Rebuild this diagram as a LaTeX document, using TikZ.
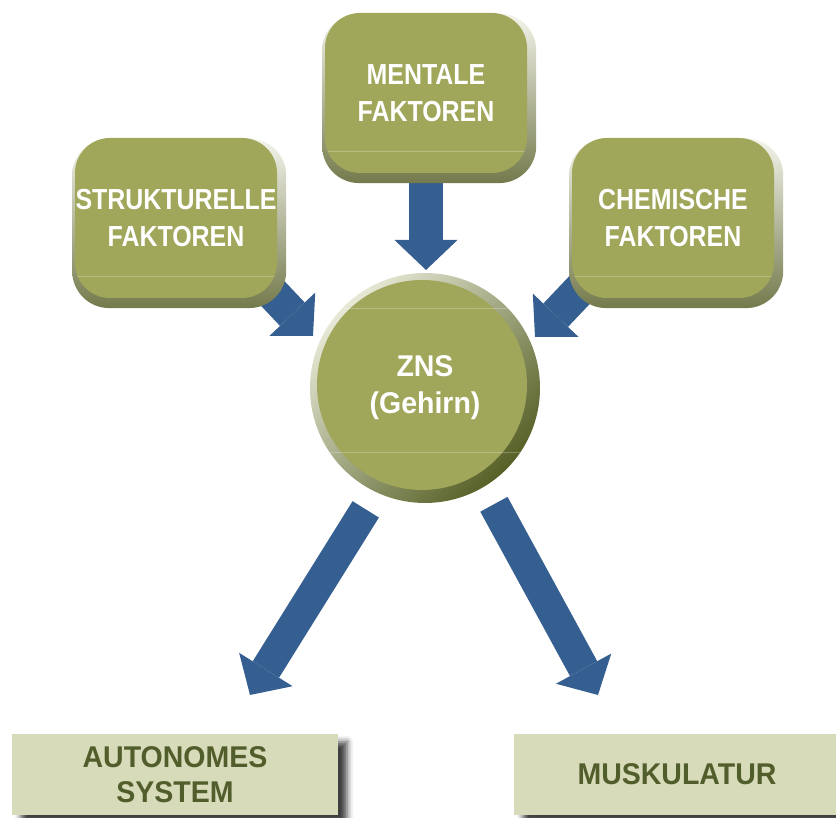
\documentclass[tikz,border=0pt]{standalone}
\usepackage{fontspec}
\newfontfamily\boxfont{Liberation Sans}[FakeStretch=0.86]
\newfontfamily\basefont{Liberation Sans}[FakeStretch=0.95]
\usepackage{xcolor}
\usetikzlibrary{arrows.meta,calc}
\usetikzlibrary{shadows,shadows.blur}
\usetikzlibrary{backgrounds}

\definecolor{olivebox}{RGB}{160,166,90}
\definecolor{olivedark}{RGB}{86,96,38}
\definecolor{olivebevel}{RGB}{116,122,76}
\definecolor{arrowblue}{RGB}{54,95,145}
\definecolor{basefill}{RGB}{215,219,185}
\definecolor{basetext}{RGB}{82,93,44}

\tikzset{
  factorbox/.style={fill=olivebox, rounded corners=35pt, minimum width=202pt, minimum height=160pt,
    inner sep=0pt, align=center, text=white, font=\boxfont\bfseries\fontsize{29}{37}\selectfont,
    general shadow={shadow xshift=3pt, shadow yshift=-5pt, shadow scale=1.06,
      top color=white!88!olivebox, bottom color=olivebevel},
    path picture={\draw[white, opacity=.25] ([yshift=22pt]path picture bounding box.south west)
      -- ([yshift=22pt]path picture bounding box.south east);}},
  brainball/.style={circle, minimum size=230pt, inner sep=0pt, align=center, text=white,
    font=\basefont\bfseries\fontsize{30}{37}\selectfont,
    top color=white!75!olivebox, bottom color=olivedark, shading angle=45,
    path picture={\fill[olivebox] ([shift={(-3pt,3pt)}]path picture bounding box.center) circle (105pt);
      \draw[white, opacity=.25] ([yshift=51pt]path picture bounding box.south west)
        -- ([yshift=51pt]path picture bounding box.south east);
      \draw[white, opacity=.25] ([yshift=-35pt]path picture bounding box.north west)
        -- ([yshift=-35pt]path picture bounding box.north east);}},
  targetbox/.style={fill=basefill, minimum width=326pt, minimum height=81pt, inner sep=0pt,
    align=center, text=basetext, font=\basefont\bfseries\fontsize{30}{35}\selectfont,
    blur shadow={shadow xshift=9pt, shadow yshift=-8pt, shadow blur radius=6pt, shadow opacity=75}},
  bigarrow/.style={draw=arrowblue, line width=34pt, -{Triangle[length=30pt, width=63pt, line width=0pt]}}
}

\begin{document}
\begin{tikzpicture}[x=1pt,y=1pt]
\useasboundingbox (0,0) rectangle (836,818);

\node [factorbox] (mental) at (426,725) {MENTALE\\FAKTOREN};
\node [factorbox] (struct) at (176,600) {STRUKTURELLE\\FAKTOREN};
\node [factorbox] (chem) at (673,600) {CHEMISCHE\\FAKTOREN};
\node [brainball] (zns) at (425,430) {ZNS\\(Gehirn)};
\node [targetbox] (auto) at (175,43.5) {AUTONOMES\\SYSTEM};
\node [targetbox] (musk) at (677,43.5) {MUSKULATUR};

\coordinate (inM) at (426,548);
\coordinate (inS) at (313,482);
\coordinate (inC) at (535,481);
\coordinate (outA) at (250,123);
\coordinate (outM) at (598,123);

\begin{scope}[on background layer]
\draw [bigarrow] (mental) -- (inM);
\draw [bigarrow, shorten <=-30pt] (struct.south east) -- (inS);
\draw [bigarrow, shorten <=-30pt] (chem.south west) -- (inC);
\draw [bigarrow, line width=31pt, shorten <=20pt] (zns.245) -- (outA);
\draw [bigarrow, line width=31pt, shorten <=20pt] (zns.301) -- (outM);
\end{scope}
\end{tikzpicture}
\end{document}
